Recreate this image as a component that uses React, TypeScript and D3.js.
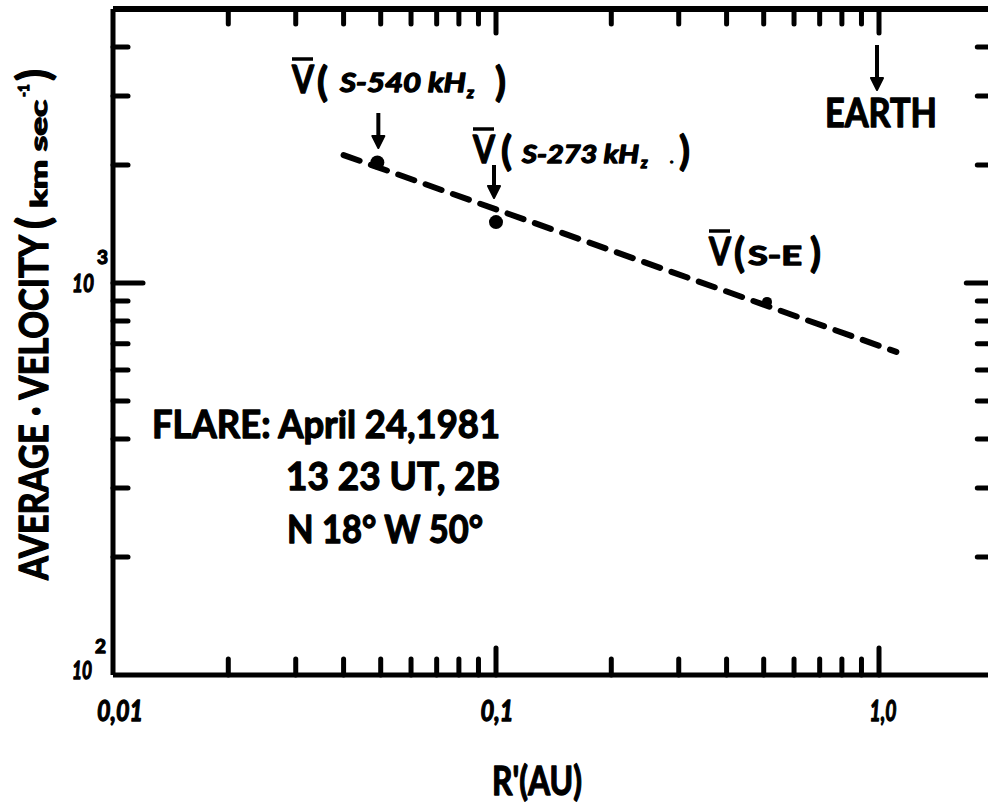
import React from "react";
import * as d3 from "d3";

// ---- data ----
const pointR = [0.049, 0.1, 0.51];
const pointV = [2030, 1430, 895];
const pointNames = ["S-540 kH", "S-273 kH", "S-E"];
const lineR = [0.04, 1.11];
const lineV = [2120, 667];
const xMinorTicks = [0.02, 0.03, 0.04, 0.05, 0.06, 0.07, 0.08, 0.09, 0.2, 0.3, 0.4, 0.5, 0.6, 0.7, 0.8, 0.9];
const xMajorTicks = [0.1, 1.0];
const xTickLabels = ["0,01", "0,1", "1,0"];
const xLabelValues = [0.01, 0.1, 1.0];
const yMinorTicks = [200, 300, 400, 500, 600, 700, 800, 900, 2000, 3000, 4000];
const yMajorTicks = [1000];
const earthR = 1.0;
const flareLines = ["FLARE: April 24,1981", "13 23 UT, 2B", "N 18\u00b0 W 50\u00b0"];

const W = 988;
const H = 805;
const FONT = "Lato, 'Open Sans', 'DejaVu Sans', sans-serif";

export default function App() {
  const x = d3.scaleLog().domain([0.01, 2]).range([113, 113 + 383 * Math.log10(200)]);
  const y = d3.scaleLog().domain([100, 5000]).range([675, 675 - 392 * Math.log10(50)]);
  const [x0, x1] = x.range();
  const [y0, y1] = y.range();
  const lineGen = d3
    .line<number>()
    .x((_, i) => x(lineR[i]))
    .y((d) => y(d));

  const sw = 5;
  const tickStyle = { stroke: "#000", strokeWidth: sw, strokeLinecap: "round" as const };

  const arrow = (ax: number, ya: number, yb: number, key: string) => (
    <g key={key}>
      <line x1={ax} x2={ax} y1={ya} y2={yb - 10} stroke="#000" strokeWidth={4} />
      <path d={`M${ax - 6},${yb - 12} L${ax + 6},${yb - 12} L${ax},${yb} Z`} fill="#000" stroke="#000" strokeWidth={2} strokeLinejoin="round" />
    </g>
  );

  const vbar = (vx: number, base: number, key: string, size = 38) => (
    <g key={key}>
      <text x={vx} y={base} fontSize={size} fontWeight="bold" fontFamily={FONT} textLength={22} lengthAdjust="spacingAndGlyphs">
        V
      </text>
      <line x1={vx} x2={vx + 21} y1={base - 34} y2={base - 34} stroke="#000" strokeWidth={3.5} />
    </g>
  );

  return (
    <svg width={W} height={H} style={{ position: "absolute", left: 0, top: 0, background: "#fff" }}>
      <rect x={0} y={0} width={W} height={H} fill="#fff" />
      {/* frame */}
      <line x1={x0} x2={x1} y1={y1} y2={y1} stroke="#000" strokeWidth={6} />
      <line x1={x0} x2={x1} y1={y0} y2={y0} stroke="#000" strokeWidth={5} />
      <line x1={x0} x2={x0} y1={y1} y2={y0} stroke="#000" strokeWidth={5} />
      <line x1={x1} x2={x1} y1={y1} y2={y0} stroke="#000" strokeWidth={5} />

      {/* x ticks bottom & top */}
      {xMinorTicks.map((t) => (
        <g key={"xm" + t}>
          <line x1={x(t)} x2={x(t)} y1={y0} y2={y0 - 16} {...tickStyle} />
          <line x1={x(t)} x2={x(t)} y1={y1} y2={y1 + 15} {...tickStyle} />
        </g>
      ))}
      {xMajorTicks.map((t) => (
        <g key={"xM" + t}>
          <line x1={x(t)} x2={x(t)} y1={y0} y2={y0 - 27} {...tickStyle} />
          <line x1={x(t)} x2={x(t)} y1={y1} y2={y1 + 24} {...tickStyle} />
        </g>
      ))}
      {/* y ticks left & right */}
      {yMinorTicks.map((t) => (
        <g key={"ym" + t}>
          <line x1={x0} x2={x0 + 15} y1={y(t)} y2={y(t)} {...tickStyle} />
          <line x1={x1} x2={x1 - 17} y1={y(t)} y2={y(t)} {...tickStyle} />
        </g>
      ))}
      {yMajorTicks.map((t) => (
        <g key={"yM" + t}>
          <line x1={x0} x2={x0 + 30} y1={y(t)} y2={y(t)} {...tickStyle} />
          <line x1={x1} x2={x1 - 28} y1={y(t)} y2={y(t)} {...tickStyle} />
        </g>
      ))}

      <g stroke="#000" strokeWidth={1.3} strokeLinejoin="round">
        {/* x tick labels */}
        {xTickLabels.map((s, i) => (
          <text
            key={s}
            x={x(xLabelValues[i]) + [7, 1, 4][i]}
            y={721}
            textAnchor="middle"
            fontSize={28}
            fontWeight="bold"
            fontStyle="italic"
            fontFamily={FONT}
            textLength={[46, 33, 27][i]}
            lengthAdjust="spacingAndGlyphs"
          >
            {s}
          </text>
        ))}
        {/* y tick labels */}
        <text x={72} y={292} fontSize={25} fontWeight="bold" fontStyle="italic" fontFamily={FONT} textLength={22} lengthAdjust="spacingAndGlyphs">10</text>
        <text x={97} y={264} fontSize={19} fontWeight="bold" fontFamily={FONT}>3</text>
        <text x={72} y={679} fontSize={24} fontWeight="bold" fontStyle="italic" fontFamily={FONT} textLength={20} lengthAdjust="spacingAndGlyphs">10</text>
        <text x={95} y={653} fontSize={19} fontWeight="bold" fontFamily={FONT}>2</text>

        {/* axis titles */}
        <text x={537} y={795} textAnchor="middle" fontSize={40} fontWeight="bold" fontFamily={FONT} textLength={90} lengthAdjust="spacingAndGlyphs">
          R'(AU)
        </text>
        <g transform="translate(48,0) rotate(-90)">
          <text x={-580} y={0} fontSize={41} fontWeight="bold" fontFamily={FONT} textLength={345} lengthAdjust="spacingAndGlyphs">
            AVERAGE · VELOCITY
          </text>
          <text x={-229} y={1} fontSize={44} fontWeight="bold" fontFamily={FONT}>(</text>
          <text x={-208} y={-1} fontSize={23} fontWeight="bold" fontFamily={FONT} textLength={108} lengthAdjust="spacingAndGlyphs">km sec</text>
          <text x={-97} y={-19} fontSize={16} fontWeight="bold" fontFamily={FONT} textLength={13} lengthAdjust="spacingAndGlyphs">-1</text>
          <text x={-81} y={1} fontSize={44} fontWeight="bold" fontFamily={FONT}>)</text>
        </g>

        {/* V labels */}
        {vbar(292, 93, "v0")}
        <text x={317} y={96} fontSize={40} fontWeight="bold" fontFamily={FONT}>(</text>
        <text x={340} y={92} fontSize={27} fontWeight="bold" fontStyle="italic" fontFamily={FONT} textLength={126} lengthAdjust="spacingAndGlyphs">
          {pointNames[0]}
        </text>
        <text x={467} y={98} fontSize={16} fontWeight="bold" fontStyle="italic" fontFamily={FONT}>z</text>
        <text x={495} y={96} fontSize={40} fontWeight="bold" fontFamily={FONT}>)</text>

        {vbar(473, 163, "v1")}
        <text x={501} y={165} fontSize={40} fontWeight="bold" fontFamily={FONT}>(</text>
        <text x={522} y={163} fontSize={24} fontWeight="bold" fontStyle="italic" fontFamily={FONT} textLength={117} lengthAdjust="spacingAndGlyphs">
          {pointNames[1]}
        </text>
        <text x={641} y={168} fontSize={15} fontWeight="bold" fontStyle="italic" fontFamily={FONT}>z</text>
        <text x={670} y={163} fontSize={14} fontWeight="bold" fontFamily={FONT}>.</text>
        <text x={679} y={165} fontSize={40} fontWeight="bold" fontFamily={FONT}>)</text>

        {vbar(709, 265, "v2")}
        <text x={734} y={267} fontSize={40} fontWeight="bold" fontFamily={FONT}>(</text>
        <text x={748} y={265} fontSize={26} fontWeight="bold" fontFamily={FONT} textLength={54} lengthAdjust="spacingAndGlyphs">
          {pointNames[2]}
        </text>
        <text x={810} y={267} fontSize={40} fontWeight="bold" fontFamily={FONT}>)</text>

        {/* EARTH */}
        <text x={825} y={127} fontSize={40} fontWeight="bold" fontFamily={FONT} textLength={112} lengthAdjust="spacingAndGlyphs">
          EARTH
        </text>

        {/* flare annotation */}
        <text x={152} y={438} fontSize={38} fontWeight="bold" fontFamily={FONT} textLength={348} lengthAdjust="spacingAndGlyphs">
          {flareLines[0]}
        </text>
        <text x={286} y={490} fontSize={38} fontWeight="bold" fontFamily={FONT} textLength={214} lengthAdjust="spacingAndGlyphs">
          {flareLines[1]}
        </text>
        <text x={287} y={543} fontSize={38} fontWeight="bold" fontFamily={FONT} textLength={196} lengthAdjust="spacingAndGlyphs">
          {flareLines[2]}
        </text>
      </g>

      {/* dashed fit line */}
      <path d={lineGen(lineV) || ""} fill="none" stroke="#000" strokeWidth={6} strokeDasharray="17 12" strokeLinecap="round" />

      {/* data points */}
      {pointR.map((r, i) => (
        <circle key={"p" + i} cx={x(r)} cy={y(pointV[i])} r={i === 2 ? 5 : 7} fill="#000" />
      ))}

      {/* arrows */}
      {arrow(x(pointR[0]) + 1, 113, 148, "a0")}
      {arrow(x(pointR[1]) - 2, 165, 198, "a1")}
      {arrow(x(earthR) - 2, 45, 90, "a2")}
    </svg>
  );
}
